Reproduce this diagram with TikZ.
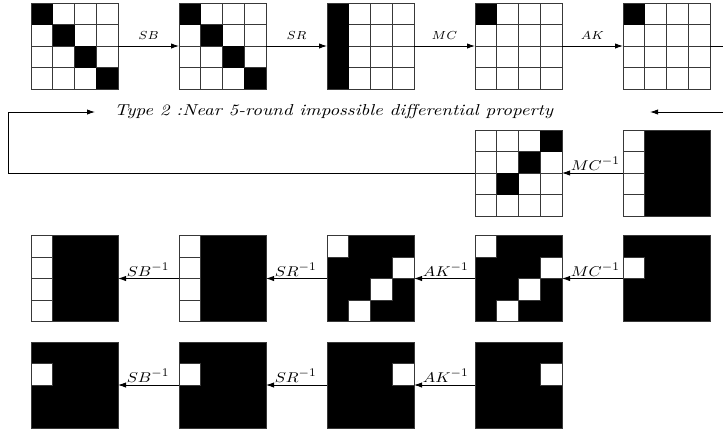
\documentclass[tikz,border=0pt]{standalone}
\usetikzlibrary{arrows.meta}
\tikzset{
  gbox/.style={minimum width=52.2pt, minimum height=51.6pt, inner sep=0pt, outer sep=0pt},
  gline/.style={draw=black!78, line width=0.55pt},
  conn/.style={line width=0.5pt, -{Latex[length=4.8pt,width=3.2pt]}},
  flab/.style={inner sep=0pt, above=3.5pt},
  blab/.style={anchor=south west, inner sep=0pt, xshift=5pt, yshift=1pt},
}
\newcommand{\gridnode}[2]{\node[gbox] (#1) at (#2) {};}
\newcommand{\blackcells}[2]{%
  \begin{scope}[shift={(#1.north west)}, x=13.05pt, y=-12.9pt]
    \foreach \i in {0,...,4} {\draw[gline] (\i,0) -- (\i,4); \draw[gline] (0,\i) -- (4,\i);}
    \foreach \r/\c in {#2} {\fill (\c,\r) rectangle +(1,1);}
    \draw[gline] (0,0) rectangle (4,4);
  \end{scope}}
\newcommand{\whitecells}[2]{%
  \begin{scope}[shift={(#1.north west)}, x=13.05pt, y=-12.9pt]
    \fill (0,0) rectangle (4,4);
    \foreach \r/\c in {#2} {\fill[white] (\c,\r) rectangle +(1,1);
      \draw[gline] (\c,\r) rectangle +(1,1);}
    \draw[gline] (0,0) rectangle (4,4);
  \end{scope}}
\newcommand{\fwd}[1]{\scalebox{1.05}[1.0]{\scriptsize$#1$}}
\newcommand{\inv}[1]{$\scalebox{1.0}[0.85]{$#1$}^{-1}$}
\begin{document}
\begin{tikzpicture}[x=0.6pt, y=-0.6pt]
\path[use as bounding box] (0,0) rectangle (723,435);
\clip (0,0) rectangle (723,435);
% row 1
\gridnode{g11}{74.5,46}  \blackcells{g11}{0/0,1/1,2/2,3/3}
\gridnode{g12}{222.5,46} \blackcells{g12}{0/0,1/1,2/2,3/3}
\gridnode{g13}{370.5,46} \blackcells{g13}{0/0,1/0,2/0,3/0}
\gridnode{g14}{518.5,46} \blackcells{g14}{0/0}
\gridnode{g15}{666.5,46} \blackcells{g15}{0/0}
% row 2
\gridnode{g24}{518.5,173} \blackcells{g24}{0/3,1/2,2/1}
\gridnode{g25}{666.5,173} \whitecells{g25}{0/0,1/0,2/0,3/0}
% row 3
\gridnode{g31}{74.5,278.5}  \whitecells{g31}{0/0,1/0,2/0,3/0}
\gridnode{g32}{222.5,278.5} \whitecells{g32}{0/0,1/0,2/0,3/0}
\gridnode{g33}{370.5,278.5} \whitecells{g33}{0/0,1/3,2/2,3/1}
\gridnode{g34}{518.5,278.5} \whitecells{g34}{0/0,1/3,2/2,3/1}
\gridnode{g35}{666.5,278.5} \whitecells{g35}{1/0}
% row 4
\gridnode{g41}{74.5,385}  \whitecells{g41}{1/0}
\gridnode{g42}{222.5,385} \whitecells{g42}{1/0}
\gridnode{g43}{370.5,385} \whitecells{g43}{1/3}
\gridnode{g44}{518.5,385} \whitecells{g44}{1/3}
% forward arrows
\draw[conn] (g11) -- node[flab]{\fwd{SB}} (g12);
\draw[conn] (g12) -- node[flab]{\fwd{SR}} (g13);
\draw[conn] (g13) -- node[flab]{\fwd{MC}} (g14);
\draw[conn] (g14) -- node[flab]{\fwd{AK}} (g15);
% title and loop
\node[inner sep=0pt] (t) at (334,112) {\scalebox{1.14}[0.95]{\textit{Type 2 :Near 5-round impossible differential property}}};
\coordinate (lcorner) at (8,112);
\coordinate (ltip) at (95,112);
\coordinate (rcorner) at (745,46);
\coordinate (rtip) at (650,112);
\draw[conn] (g15.east) -- (rcorner) |- (rtip);
\draw[conn] (g24.west) -| (lcorner) -- (ltip);
% backward arrows
\draw[conn] (g25) -- node[blab,pos=1]{\inv{MC}} (g24);
\draw[conn] (g35) -- node[blab,pos=1]{\inv{MC}} (g34);
\draw[conn] (g34) -- node[blab,pos=1]{\inv{AK}} (g33);
\draw[conn] (g33) -- node[blab,pos=1]{\inv{SR}} (g32);
\draw[conn] (g32) -- node[blab,pos=1]{\inv{SB}} (g31);
\draw[conn] (g44) -- node[blab,pos=1]{\inv{AK}} (g43);
\draw[conn] (g43) -- node[blab,pos=1]{\inv{SR}} (g42);
\draw[conn] (g42) -- node[blab,pos=1]{\inv{SB}} (g41);
\end{tikzpicture}
\end{document}
